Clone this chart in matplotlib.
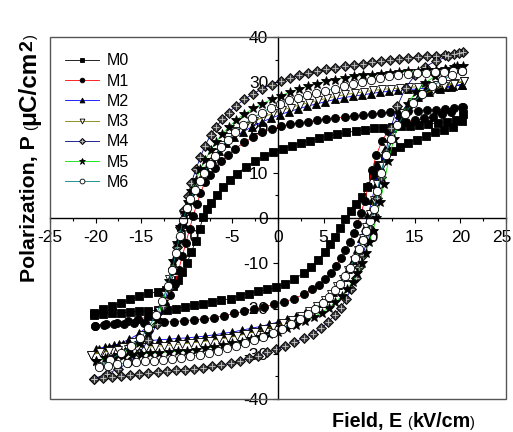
import matplotlib
matplotlib.use('Agg')
from matplotlib import pyplot as plt
from matplotlib.patches import Rectangle
from matplotlib.legend_handler import HandlerTuple
from matplotlib.ticker import MultipleLocator
from matplotlib.transforms import IdentityTransform, ScaledTranslation

plt.rcParams['font.family'] = ['Liberation Sans', 'DejaVu Sans']
plt.rcParams['axes.unicode_minus'] = False

# upper branch (field going down) then lower branch (field going up)
m0_up_e = [20.3, 19.5, 18.5, 17.5, 16.5, 15.5, 14.5, 13.5, 12.5, 11.5, 10.5, 9.5, 8.5, 7.5, 6.5, 5.5, 4.5, 3.5, 2.5, 1.5,
           0.5, -0.5, -1.5, -2.5, -3.5, -4.5, -5.3, -6.0, -6.7, -7.3, -7.8, -8.2, -8.6, -9.0, -9.5, -10.0, -10.5, -11.0,
           -11.5, -12.3, -13.2, -14.2, -15.2, -16.2, -17.2, -18.2, -19.2, -20.2]
m0_up_p = [23.0, 21.6, 21.2, 21.0, 20.8, 20.6, 20.4, 20.3, 20.1, 20.0, 19.8, 19.5, 19.2, 18.9, 18.5, 18.1, 17.6, 17.1, 16.6, 16.0,
           15.2, 14.5, 13.6, 12.5, 11.3, 9.8, 8.4, 6.8, 5.0, 3.4, 2.0, 0.3, -2.5, -5.0, -7.5, -10.0, -12.0, -13.6,
           -15.0, -16.0, -16.4, -16.6, -17.3, -18.0, -18.8, -19.5, -20.2, -21.0]
m0_dn_e = [-20.2, -19.2, -18.2, -17.2, -16.2, -15.2, -14.2, -13.2, -12.2, -11.2, -10.2, -9.2, -8.2, -7.2, -6.2, -5.2, -4.2,
           -3.2, -2.2, -1.2, -0.2, 0.8, 1.8, 2.8, 3.6, 4.4, 5.1, 5.7, 6.2, 6.8, 7.4, 8.0, 8.6, 9.2, 9.8, 10.4, 11.0, 11.7,
           12.5, 13.4, 14.3, 15.2, 16.2, 17.2, 18.2, 19.2, 20.2]
m0_dn_p = [-21.5, -21.3, -21.1, -20.9, -20.8, -20.6, -20.5, -20.4, -20.3, -20.0, -19.6, -19.2, -18.9, -18.5, -18.2, -17.8,
           -17.2, -16.7, -16.2, -15.8, -15.3, -14.5, -13.5, -12.2, -10.8, -9.2, -7.6, -5.8, -4.2, -2.3, -0.3, 1.5, 3.0,
           4.7, 6.8, 9.5, 11.8, 13.3, 14.8, 15.8, 16.6, 17.3, 18.1, 18.9, 19.5, 20.2, 21.5]

m1_up_e = [20.3, 19.3, 18.3, 17.3, 16.3, 15.3, 14.3, 13.3, 12.3, 11.3, 10.3, 9.3, 8.3, 7.3, 6.3, 5.3, 4.3, 3.3, 2.3, 1.3,
           0.3, -0.7, -1.7, -2.7, -3.7, -4.7, -5.5, -6.2, -6.9, -7.5, -8.0, -8.5, -8.9, -9.3, -9.7, -10.1, -10.5, -10.9,
           -11.3, -11.8, -12.4, -13.2, -14.2, -15.3, -16.5, -17.7, -18.9, -20.1]
m1_up_p = [24.5, 24.2, 24.0, 23.9, 23.8, 23.7, 23.6, 23.5, 23.4, 23.2, 23.0, 22.8, 22.6, 22.3, 22.1, 21.9, 21.6, 21.3, 21.0,
           20.7, 20.3, 19.7, 18.9, 17.9, 16.7, 15.3, 13.9, 12.5, 11.0, 9.5, 8.0, 5.5, 3.0, 0.5, -2.5, -5.5, -8.5, -11.5,
           -14.5, -17.0, -19.2, -20.8, -21.8, -22.4, -22.8, -23.1, -23.4, -23.8]
m1_dn_e = [-20.1, -19.1, -18.0, -16.9, -15.8, -14.7, -13.6, -12.5, -11.4, -10.3, -9.2, -8.1, -7.0, -5.9, -4.8, -3.7, -2.6,
           -1.5, -0.4, 0.7, 1.8, 2.8, 3.7, 4.5, 5.2, 5.8, 6.4, 6.9, 7.4, 7.9, 8.3, 8.7, 9.1, 9.5, 9.9, 10.3, 10.8, 11.4,
           12.1, 13.0, 14.0, 15.0, 16.0, 17.0, 18.0, 19.0, 20.2]
m1_dn_p = [-23.8, -23.6, -23.5, -23.4, -23.3, -23.2, -23.1, -23.0, -22.9, -22.7, -22.5, -22.3, -22.0, -21.6, -21.1, -20.6,
           -20.1, -19.6, -19.1, -18.5, -17.8, -16.9, -15.8, -14.7, -13.5, -12.1, -10.6, -8.9, -7.1, -5.2, -3.3, -1.3, 1.0,
           3.8, 7.0, 10.5, 14.0, 17.0, 19.3, 20.6, 21.2, 21.6, 22.0, 22.4, 22.9, 23.5, 24.5]

m2_up_e = [20.2, 19.2, 18.2, 17.2, 16.2, 15.2, 14.2, 13.2, 12.2, 11.2, 10.2, 9.2, 8.2, 7.2, 6.2, 5.2, 4.2, 3.2, 2.2, 1.2,
           0.2, -0.8, -1.8, -2.8, -3.8, -4.8, -5.7, -6.5, -7.2, -7.9, -8.5, -9.0, -9.5, -9.9, -10.3, -10.7, -11.1, -11.5,
           -12.0, -12.6, -13.3, -14.2, -15.2, -16.3, -17.4, -18.5, -19.6]
m2_up_p = [29.5, 29.2, 29.0, 28.8, 28.7, 28.5, 28.4, 28.2, 28.0, 27.8, 27.5, 27.2, 26.9, 26.6, 26.2, 25.7, 25.2, 24.7, 24.1,
           23.5, 22.8, 22.0, 21.2, 20.2, 19.1, 17.9, 16.5, 14.8, 13.0, 10.8, 8.7, 6.3, 3.9, 1.5, -1.3, -4.5, -8.0, -11.5,
           -15.0, -18.5, -21.5, -23.8, -25.5, -26.8, -27.8, -28.5, -29.0]
m2_dn_e = [-20, -19, -18, -17, -16, -15, -14, -13, -12, -11, -10, -9, -8, -7, -6, -5, -4, -3, -2, -1, 0, 1, 2, 3,
           3.9, 4.7, 5.4, 6.0, 6.6, 7.2, 7.7, 8.2, 8.7, 9.1, 9.5, 9.9, 10.3, 10.7, 11.2, 11.8, 12.5, 13.3, 14.3, 15.4,
           16.6, 17.8, 19.0, 20.2]
m2_dn_p = [-29.0, -28.5, -28.1, -27.8, -27.5, -27.3, -27.1, -26.9, -26.8, -26.6, -26.5, -26.3, -26.1, -25.8, -25.5, -25.2,
           -24.8, -24.4, -24.0, -23.5, -23.0, -22.4, -21.7, -20.9, -19.9, -18.8, -17.6, -16.3, -14.8, -13.1, -11.3, -9.2,
           -6.8, -4.5, -2.0, 0.8, 4.0, 7.5, 11.5, 15.8, 19.8, 23.0, 25.3, 26.8, 27.8, 28.5, 29.0, 29.5]

m3_up_e = [20.4, 19.4, 18.4, 17.4, 16.4, 15.4, 14.4, 13.4, 12.4, 11.4, 10.4, 9.4, 8.4, 7.4, 6.4, 5.4, 4.4, 3.4, 2.4, 1.4,
           0.4, -0.6, -1.6, -2.6, -3.6, -4.6, -5.5, -6.3, -7.0, -7.7, -8.3, -8.9, -9.4, -9.9, -10.3, -10.7, -11.1, -11.5,
           -11.9, -12.4, -13.0, -13.8, -14.8, -15.9, -17.0, -18.2, -19.4, -20.5]
m3_up_p = [30.2, 29.8, 29.6, 29.4, 29.2, 29.0, 28.9, 28.7, 28.6, 28.4, 28.2, 27.9, 27.6, 27.3, 26.9, 26.5, 26.0, 25.5, 25.0,
           24.4, 23.8, 23.1, 22.3, 21.4, 20.4, 19.2, 17.8, 16.2, 14.4, 12.4, 10.2, 7.8, 5.3, 2.8, 0.2, -3.0, -6.5, -10.0,
           -13.5, -17.0, -20.5, -23.5, -25.8, -27.4, -28.5, -29.3, -29.8, -30.2]
m3_dn_e = [-20.5, -19.5, -18.5, -17.5, -16.5, -15.5, -14.5, -13.5, -12.5, -11.5, -10.5, -9.5, -8.5, -7.5, -6.5, -5.5, -4.5,
           -3.5, -2.5, -1.5, -0.5, 0.5, 1.5, 2.5, 3.4, 4.3, 5.1, 5.8, 6.5, 7.1, 7.7, 8.3, 8.8, 9.3, 9.7, 10.1, 10.5, 10.9,
           11.4, 12.0, 12.8, 13.7, 14.7, 15.8, 17.0, 18.2, 19.3, 20.4]
m3_dn_p = [-30.2, -29.6, -29.3, -29.1, -28.9, -28.7, -28.6, -28.4, -28.2, -28.0, -27.8, -27.6, -27.4, -27.1, -26.8, -26.5,
           -26.1, -25.6, -25.1, -24.6, -24.0, -23.3, -22.5, -21.6, -20.6, -19.4, -18.1, -16.7, -15.1, -13.4, -11.5, -9.3,
           -7.0, -4.5, -2.0, 0.8, 4.0, 7.5, 11.5, 16.0, 20.0, 23.2, 25.6, 27.2, 28.3, 29.1, 29.7, 30.2]

m4_up_e = [20.3, 19.3, 18.3, 17.3, 16.3, 15.3, 14.3, 13.3, 12.3, 11.3, 10.3, 9.3, 8.3, 7.3, 6.3, 5.3, 4.3, 3.3, 2.3, 1.3,
           0.3, -0.7, -1.7, -2.7, -3.7, -4.6, -5.4, -6.1, -6.8, -7.4, -8.0, -8.5, -9.0, -9.5, -9.9, -10.3, -10.7, -11.1,
           -11.5, -12.0, -12.6, -13.3, -14.2, -15.2, -16.3, -17.5, -18.8, -20.2]
m4_up_p = [36.6, 36.3, 36.1, 35.9, 35.7, 35.5, 35.3, 35.1, 34.9, 34.7, 34.4, 34.1, 33.8, 33.5, 33.2, 32.9, 32.5, 32.0, 31.5,
           31.0, 30.3, 29.5, 28.6, 27.5, 26.2, 24.8, 23.3, 21.8, 20.1, 18.3, 16.0, 13.5, 10.8, 7.8, 4.8, 1.8, -2.0, -6.5,
           -11.0, -15.5, -19.5, -23.5, -27.0, -29.8, -31.8, -33.3, -34.5, -35.5]
m4_dn_e = [-20.2, -19.2, -18.2, -17.2, -16.2, -15.2, -14.2, -13.2, -12.2, -11.2, -10.2, -9.2, -8.2, -7.2, -6.2, -5.2, -4.2,
           -3.2, -2.2, -1.2, -0.2, 0.8, 1.8, 2.8, 3.8, 4.7, 5.5, 6.2, 6.9, 7.5, 8.0, 8.5, 8.9, 9.3, 9.7, 10.1, 10.5, 10.9,
           11.3, 11.8, 12.4, 13.1, 14.0, 15.0, 16.1, 17.3, 18.6, 19.9]
m4_dn_p = [-35.5, -35.3, -35.1, -34.9, -34.7, -34.5, -34.3, -34.1, -33.9, -33.7, -33.5, -33.3, -33.1, -32.8, -32.5, -32.1,
           -31.6, -31.0, -30.4, -29.7, -29.0, -28.2, -27.4, -26.6, -25.6, -24.4, -23.0, -21.5, -19.8, -17.8, -15.7, -13.3,
           -10.8, -8.2, -5.4, -2.5, 0.7, 4.5, 9.0, 14.5, 20.0, 24.8, 28.8, 31.5, 33.4, 34.7, 35.7, 36.4]

m5_up_e = [20.3, 19.3, 18.3, 17.3, 16.3, 15.3, 14.3, 13.3, 12.3, 11.3, 10.3, 9.3, 8.3, 7.3, 6.3, 5.3, 4.3, 3.3, 2.3, 1.3,
           0.3, -0.7, -1.7, -2.7, -3.7, -4.6, -5.4, -6.1, -6.8, -7.4, -8.0, -8.5, -9.0, -9.5, -9.9, -10.3, -10.7, -11.1,
           -11.5, -12.0, -12.6, -13.3, -14.2, -15.2, -16.3, -17.5, -18.8, -20.0]
m5_up_p = [33.6, 33.3, 33.0, 32.8, 32.6, 32.5, 32.4, 32.3, 32.1, 31.9, 31.7, 31.5, 31.3, 31.0, 30.6, 30.2, 29.7, 29.1, 28.5,
           27.8, 27.0, 26.2, 25.3, 24.2, 23.0, 21.6, 20.1, 18.5, 16.8, 15.0, 12.8, 10.8, 8.5, 6.0, 3.6, 1.0, -2.0, -5.5,
           -9.5, -14.0, -18.5, -22.5, -25.5, -27.7, -29.2, -30.3, -31.0, -31.6]
m5_dn_e = [-20, -19, -18, -17, -16, -15, -14, -13, -12, -11, -10, -9, -8, -7, -6, -5, -4, -3, -2, -1, 0, 1, 2, 3,
           3.9, 4.8, 5.6, 6.3, 7.0, 7.6, 8.2, 8.7, 9.2, 9.6, 10.0, 10.4, 10.8, 11.2, 11.6, 12.1, 12.7, 13.4, 14.2, 15.1,
           16.1, 17.2, 18.4, 19.6]
m5_dn_p = [-31.6, -31.0, -30.7, -30.4, -30.2, -30.0, -29.9, -29.8, -29.6, -29.5, -29.3, -29.1, -28.8, -28.5, -28.1, -27.7,
           -27.3, -26.8, -26.3, -25.7, -25.1, -24.4, -23.6, -22.8, -21.9, -20.9, -19.8, -18.6, -17.3, -15.8, -14.1, -12.2,
           -10.0, -7.7, -5.3, -2.8, 0.0, 3.5, 7.5, 12.5, 17.5, 21.8, 25.2, 27.8, 29.8, 31.3, 32.6, 33.6]

m6_up_e = [20.2, 19.2, 18.2, 17.2, 16.2, 15.2, 14.2, 13.2, 12.2, 11.2, 10.2, 9.2, 8.2, 7.2, 6.2, 5.2, 4.2, 3.2, 2.2, 1.2,
           0.2, -0.8, -1.8, -2.8, -3.8, -4.7, -5.5, -6.2, -6.9, -7.5, -8.1, -8.6, -9.1, -9.6, -10.0, -10.4, -10.8, -11.2,
           -11.6, -12.1, -12.7, -13.4, -14.2, -15.1, -16.1, -17.2, -18.4, -19.6]
m6_up_p = [32.5, 32.4, 32.3, 32.2, 32.1, 32.0, 31.8, 31.6, 31.3, 31.0, 30.6, 30.1, 29.6, 29.1, 28.6, 28.1, 27.6, 27.1, 26.6,
           26.0, 25.3, 24.4, 23.3, 22.0, 20.6, 19.0, 17.3, 15.6, 13.8, 12.0, 10.0, 8.2, 6.2, 4.2, 2.2, -0.5, -4.0, -7.8,
           -11.5, -15.0, -18.3, -21.4, -24.3, -26.6, -28.3, -29.8, -31.3, -32.8]
m6_dn_e = [-19.6, -18.6, -17.6, -16.6, -15.6, -14.6, -13.6, -12.6, -11.6, -10.6, -9.6, -8.6, -7.6, -6.6, -5.6, -4.6, -3.6,
           -2.6, -1.6, -0.6, 0.4, 1.4, 2.4, 3.3, 4.1, 4.9, 5.6, 6.2, 6.8, 7.4, 7.9, 8.4, 8.9, 9.3, 9.7, 10.1, 10.5, 10.9,
           11.3, 11.8, 12.4, 13.1, 13.9, 14.8, 15.8, 16.9, 18.0, 19.1, 20.2]
m6_dn_p = [-33.0, -32.6, -32.3, -32.1, -31.9, -31.7, -31.5, -31.3, -31.1, -30.9, -30.6, -30.2, -29.8, -29.4, -28.8, -28.2,
           -27.6, -26.9, -26.2, -25.4, -24.5, -23.5, -22.3, -21.2, -20.0, -18.7, -17.4, -16.0, -14.5, -12.8, -11.0, -8.9,
           -6.8, -4.8, -2.8, -0.6, 2.0, 6.0, 10.0, 14.0, 17.5, 20.5, 23.0, 25.4, 27.5, 29.1, 30.5, 31.6, 32.5]

names = ['M0', 'M1', 'M2', 'M3', 'M4', 'M5', 'M6']
loops = [(m0_up_e + m0_dn_e, m0_up_p + m0_dn_p),
         (m1_up_e + m1_dn_e, m1_up_p + m1_dn_p),
         (m2_up_e + m2_dn_e, m2_up_p + m2_dn_p),
         (m3_up_e + m3_dn_e, m3_up_p + m3_dn_p),
         (m4_up_e + m4_dn_e, m4_up_p + m4_dn_p),
         (m5_up_e + m5_dn_e, m5_up_p + m5_dn_p),
         (m6_up_e + m6_dn_e, m6_up_p + m6_dn_p)]
for n, (e, p) in zip(names, loops):
    assert len(e) == len(p), n

line_colors = ['black', 'red', 'blue', '#808000', '#000080', '#00e000', '#008080']
markers = ['s', 'o', '^', 'v', 'D', '*', 'o']
faces = ['black', 'black', 'black', 'white', '#3a3a3a', 'black', 'white']
msizes = [5.4, 5.8, 6.0, 6.0, 5.4, 7.8, 6.0]

fig = plt.figure(figsize=(5.13, 4.32), dpi=100)
ax = fig.add_axes([50 / 513, 33 / 432, 456 / 513, 362 / 432])

handles = []
for n, (e, p), c, m, fc, s in zip(names, loops, line_colors, markers, faces, msizes):
    h, = ax.plot(e, p, color=c, lw=0.6, marker=m, ms=s, mfc=fc, mec='black', mew=0.6, label=n)
    if n == 'M4':
        h2, = ax.plot(e, p, ls='none', marker='+', ms=4.6, mec='#c8c8c8', mew=0.6)
        handles.append((h, h2))
    else:
        handles.append(h)

ax.add_patch(Rectangle((0, 0), 1, 1, transform=ax.transAxes, fill=False, ec='#555555', lw=1.0,
                       clip_on=False, zorder=3))
ax.set_xlim(-25, 25)
ax.set_ylim(-40, 40)
for side in ['top', 'right']:
    ax.spines[side].set_visible(False)
ax.spines['left'].set_position(('data', 0))
ax.spines['bottom'].set_position(('data', 0))
ax.spines['left'].set_linewidth(1.0)
ax.spines['bottom'].set_linewidth(1.0)

ax.xaxis.set_major_locator(MultipleLocator(5))
ax.xaxis.set_minor_locator(MultipleLocator(2.5))
ax.yaxis.set_major_locator(MultipleLocator(10))
ax.yaxis.set_minor_locator(MultipleLocator(5))
ax.tick_params(which='major', direction='out', length=3.6, width=0.8, labelsize=12.5)
ax.tick_params(which='minor', direction='out', length=2.3, width=0.8)
ax.tick_params(axis='x', which='major', pad=5)
ax.tick_params(axis='y', which='major', pad=3.5)

# the last x label sits against the frame; nudge it in so it stays on the canvas
fig.canvas.draw()
for lab in ax.get_xticklabels():
    if lab.get_text() == '25':
        lab.set_transform(lab.get_transform() + ScaledTranslation(-3 / 72, 0, fig.dpi_scale_trans))

leg = ax.legend(handles, names, loc='upper left', bbox_to_anchor=(0.033, 0.955), frameon=False,
                fontsize=11.5, markerscale=0.58, numpoints=1, handlelength=2.1, handletextpad=0.5,
                labelspacing=0.33, borderpad=0, borderaxespad=0,
                handler_map={tuple: HandlerTuple(ndivide=1)})

# axis titles put together from pieces, bold words with small plain brackets
renderer = fig.canvas.get_renderer()


def chain(x, y, pieces, vertical=False):
    for txt, size, weight, gap, lift in pieces:
        if vertical:
            y += gap
            t = fig.text(x - lift, y, txt, transform=IdentityTransform(), fontsize=size, fontweight=weight,
                         rotation=90, rotation_mode='anchor', ha='left', va='baseline')
            y += t.get_window_extent(renderer).height
        else:
            x += gap
            t = fig.text(x, y + lift, txt, transform=IdentityTransform(), fontsize=size, fontweight=weight,
                         ha='left', va='baseline')
            x += t.get_window_extent(renderer).width


chain(332, 5, [('Field, E', 14.2, 'bold', 0, 0), ('(', 10.5, 'normal', 5, 0),
               ('kV/cm', 14.2, 'bold', 0, 0), (')', 10.5, 'normal', 0, 0)])
chain(35, 150, [('Polarization, P', 15.3, 'bold', 0, 0), ('(', 10.5, 'normal', 5, 0),
                ('\u03bcC/cm', 17.5, 'bold', 0, 0), ('2', 14, 'bold', 0.5, 3), (')', 10.5, 'normal', 0.5, 0)],
      vertical=True)

fig.savefig('out.png', dpi=100)
